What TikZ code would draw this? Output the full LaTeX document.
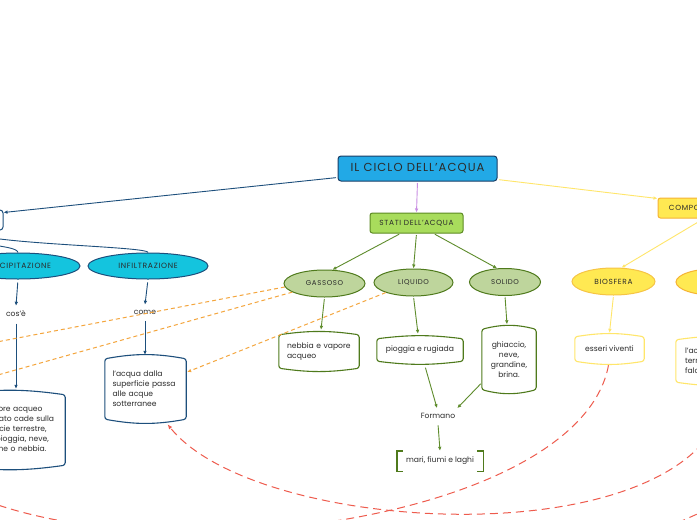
\documentclass[tikz,border=0pt]{standalone}
\usepackage{fontspec}
\setmainfont{Poppins}
\newfontfamily\capsfont[LetterSpace=9]{Poppins}
\usetikzlibrary{shapes.geometric,arrows.meta,calc}
\definecolor{txt}{HTML}{2B2B2B}
\definecolor{mainfill}{HTML}{22A9E6}
\definecolor{navy}{HTML}{1A3E66}
\definecolor{cyanfill}{HTML}{14C4DE}
\definecolor{dblue}{HTML}{1D4F7C}
\definecolor{statifill}{HTML}{A8DC5C}
\definecolor{greenbord}{HTML}{5C8A22}
\definecolor{olivefill}{HTML}{BED59C}
\definecolor{olivebord}{HTML}{4F7A1C}
\definecolor{greenline}{HTML}{5E8C2C}
\definecolor{yellowfill}{HTML}{FFE952}
\definecolor{orangebord}{HTML}{F5B335}
\definecolor{yellowline}{HTML}{FFE66A}
\definecolor{biosbord}{HTML}{F6C444}
\definecolor{orangedash}{HTML}{F4A53C}
\definecolor{reddash}{HTML}{EE5B4D}
\definecolor{purpleline}{HTML}{C88DE2}
\newcommand\tapeline[3]{\draw[#2, line width=1.1pt, rounded corners=2.5pt] (#1.north west) to[bend left=#3] (#1.north east) -- (#1.south east) to[bend left=#3] (#1.south west) -- cycle;}
\tikzset{
  x=1pt, y=-1pt,
  every node/.style={text=txt, inner sep=0pt},
  tip/.style={-{Latex[length=4pt,width=3.6pt]}},
  conn/.style={line width=0.9pt, shorten <=1.5pt},
  mainbox/.style={rectangle, rounded corners=3pt, fill=mainfill, draw=navy, line width=1pt,
    minimum width=159pt, minimum height=25pt, font=\capsfont\fontsize{11.6}{13}\selectfont},
  leftbox/.style={rectangle, rounded corners=3pt, fill=white, draw=dblue, line width=1pt,
    minimum width=66pt, minimum height=20pt},
  cyanell/.style={ellipse, fill=cyanfill, draw=dblue, line width=1pt,
    minimum width=120pt, minimum height=26pt, font=\capsfont\fontsize{7.6}{9}\selectfont},
  statibox/.style={rectangle, rounded corners=2.5pt, fill=statifill, draw=greenbord, line width=1pt,
    minimum width=93pt, minimum height=20pt, font=\capsfont\fontsize{7.4}{9}\selectfont},
  oliveell/.style={ellipse, fill=olivefill, draw=olivebord, line width=1pt,
    minimum height=27pt, font=\capsfont\fontsize{7}{8}\selectfont},
  compbox/.style={rectangle, rounded corners=2.5pt, fill=yellowfill, draw=orangebord, line width=1pt,
    minimum width=84pt, minimum height=20pt, font=\capsfont\fontsize{7.4}{9}\selectfont},
  yellell/.style={ellipse, fill=yellowfill, draw=biosbord, line width=1pt,
    minimum width=83pt, minimum height=27pt, font=\capsfont\fontsize{7.4}{9}\selectfont},
  plain/.style={font=\fontsize{7.6}{10}\selectfont, inner ysep=5pt, inner xsep=2pt},
  tape/.style={rectangle, font=\fontsize{7.6}{10}\selectfont},
  odash/.style={orangedash, line width=1pt, dash pattern=on 4pt off 3pt},
  rdash/.style={reddash, line width=1pt, dash pattern=on 8pt off 5pt},
}
\begin{document}
\begin{tikzpicture}
\fill[white] (0,0) rectangle (697,520);
\useasboundingbox (0,0) rectangle (697,520);

% ---- nodes ----
\node[mainbox] (main) at (417.5,168.5) {IL CICLO DELL’ACQUA};
\node[leftbox] (lb) at (-30,220) {};
\node[cyanell, minimum width=124pt] (prec) at (18,266) {PRECIPITAZIONE};
\node[cyanell] (infil) at (148,266) {INFILTRAZIONE};
\node[plain] (cose) at (16,314) {cos’è};
\node[plain] (come) at (145,312) {come};
\node[tape, minimum width=110pt, minimum height=70pt, text width=100pt, align=center] (vap) at (10,430)
  {il vapore acqueo\\condensato cade sulla\\superficie terrestre,\\come pioggia, neve,\\grandine o nebbia.};
\node[tape, minimum width=81pt, minimum height=60pt, text width=66pt, align=left] (sott) at (145.5,389)
  {l’acqua dalla\\superficie passa\\alle acque\\sotterranee};

\node[statibox] (stati) at (416.5,223) {STATI DELL’ACQUA};
\node[oliveell, minimum width=81pt] (gas) at (324.5,283.5) {GASSOSO};
\node[oliveell, minimum width=79pt] (liq) at (413.5,282.5) {LIQUIDO};
\node[oliveell, minimum width=71pt] (sol) at (505,282) {SOLIDO};
\node[tape, minimum width=80pt, minimum height=33pt, text width=64pt, align=left] (neb) at (319,351.5)
  {nebbia e vapore\\acqueo};
\node[tape, minimum width=86pt, minimum height=22pt] (piog) at (420,350) {pioggia e rugiada};
\node[tape, minimum width=54pt, minimum height=60pt, align=center] (ghi) at (509,359.5)
  {ghiaccio,\\neve,\\grandine,\\brina.};
\node[plain] (form) at (438,416) {Formano};
\node[tape, minimum width=86pt, minimum height=20pt] (mari) at (440,461) {mari, fiumi e laghi};

\node[compbox] (comp) at (700,208) {COMPOSIZIONE};
\node[yellell] (bio) at (613.5,281.5) {BIOSFERA};
\node[yellell, draw=orangebord] (idro) at (717.5,282) {};
\node[tape, minimum width=69pt, minimum height=24pt] (ess) at (609.5,349) {esseri viventi};
\node[tape, minimum width=84pt, minimum height=42pt, text width=66pt, align=left] (rbox) at (718,361)
  {l’acqua\\terrestre\\falde};

% ---- tape outlines ----
\tapeline{vap}{dblue}{8}
\tapeline{sott}{dblue}{10}
\tapeline{neb}{olivebord}{8}
\tapeline{piog}{olivebord}{7}
\tapeline{ghi}{olivebord}{14}
\tapeline{ess}{yellowline}{9}
\tapeline{rbox}{yellowline}{8}
\draw[olivebord, line width=1.4pt] ($(mari.north west)+(6,0)$) -- (mari.north west) -- (mari.south west) -- ++(6,0);
\draw[olivebord, line width=1.4pt] ($(mari.north east)+(-6,0)$) -- (mari.north east) -- (mari.south east) -- ++(-6,0);

% ---- connectors ----
\draw[conn, dblue, tip] ($(main.south west)+(0,-4)$) -- ($(lb.north east)+(0,3)$);
\draw[conn, purpleline, tip] (main.south) -- (stati.north);
\draw[conn, yellowline, tip] ($(main.south east)+(0,-2)$) -- ($(comp.north west)+(0,1)$);

\draw[dblue, line width=0.9pt] (lb.south) .. controls (-30,248) and (16,244) .. (prec.north);
\draw[dblue, line width=0.9pt] (lb.south) .. controls (-30,244) and (148,246) .. (infil.north);
\draw[conn, dblue, tip, shorten <=3pt] (prec.south) -- (cose.north);
\draw[conn, dblue, tip] (cose.south) -- ($(cose.south |- vap.north)+(0,-6)$);
\draw[conn, dblue, tip, shorten <=3pt] (infil.south) -- (come.north);
\draw[conn, dblue, tip] (come.south) -- ($(come.south |- sott.north)+(0,-4)$);

\draw[conn, greenline, tip] ($(stati.south)+(-16,0)$) -- (gas.60);
\draw[conn, greenline, tip] (stati.south) -- (liq.north);
\draw[conn, greenline, tip] ($(stati.south)+(17,0)$) -- (sol.120);
\draw[conn, greenline, tip] (gas.south) -- ($(neb.north)+(2,-5)$);
\draw[conn, greenline, tip] (liq.south) -- ($(piog.north)+(-2,-5)$);
\draw[conn, greenline, tip] (sol.south) -- ($(ghi.north)+(-2,-5)$);
\draw[conn, greenline, tip] ($(piog.south)+(5,5)$) -- ($(form.north)+(-1,0)$);
\draw[conn, greenline, tip] ($(ghi.south west)+(0,-7)$) -- (form.north east);
\draw[conn, greenline, tip] (form.south) -- (mari.north);

\draw[conn, yellowline, tip] ($(comp.south)+(4,0)$) -- (bio.60);
\draw[conn, yellowline, tip] (bio.south) -- ($(ess.north)+(0,-4)$);

% ---- dashed cross links ----
\coordinate (oa) at (-40,349);
\coordinate (ob) at (-20,380);
\draw[odash] (gas.185) -- (oa);
\draw[odash] (gas.195) -- (ob);
\draw[odash, -{Latex[length=4pt,width=3.6pt]}] (liq.200) -- ($(sott.east)+(1,-17)$);

\coordinate (ra) at (-40,490);
\coordinate (rd1) at (745,495);
\coordinate (rd2) at (640,540);
\draw[rdash] ($(ess.south)+(-1,4)$) .. controls (580,520) and (150,580) .. (ra);
\draw[rdash, -{Latex[length=5pt,width=4pt]}] ($(rbox.south)+(10,3)$) .. controls (715,560) and (260,540) .. ($(sott.south)+(22,5)$);
\draw[rdash] (rd1) .. controls (710,508) .. (rd2);
\end{tikzpicture}
\end{document}
